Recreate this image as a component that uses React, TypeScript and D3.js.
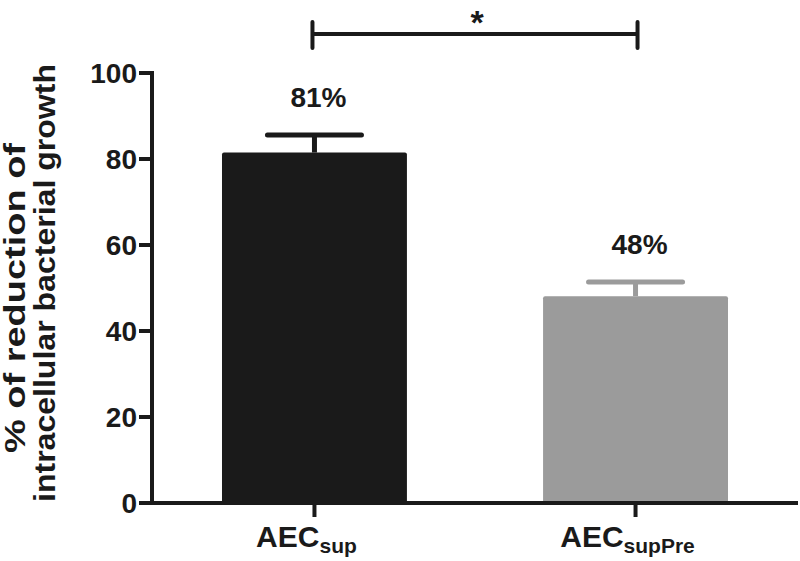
import React from "react";
import * as d3 from "d3";

const categories = ["sup", "supPre"];
const values = [81.5, 48.1];
const errors = [4.1, 3.3];
const percentLabels = ["81%", "48%"];
const yTicks = [0, 20, 40, 60, 80, 100];
const barColors = ["#1a1a1a", "#9b9b9b"];
const yLabelLines = ["% of reduction of", "intracellular bacterial growth"];
const sigLabel = "*";

const W = 800;
const H = 561;
const FONT = "Liberation Sans, Arial, Helvetica, sans-serif";
const INK = "#1a1a1a";

export default function App() {
  const x = d3.scaleBand<string>().domain(categories).range([152, 798]).paddingInner(0.424).paddingOuter(0.218);
  const y = d3.scaleLinear().domain([0, 100]).range([503, 73]);
  const x0 = 152;
  const y0 = y(0);
  const cx = (c: string) => (x(c) as number) + x.bandwidth() / 2;
  const capHalf = 47;
  const bracketY = 34;
  const labelCenters = [-298, -283];
  const labelBaselines = [25, 55];
  const labelLengths = [310, 438];

  return (
    <svg width={W} height={H} style={{ position: "absolute", left: 0, top: 0, background: "#fff" }} fontFamily={FONT}>
      {/* bars */}
      {categories.map((c, i) => (
        <g key={c}>
          <line x1={cx(c)} x2={cx(c)} y1={y(values[i])} y2={y(values[i] + errors[i])} stroke={barColors[i]} strokeWidth={5} />
          <line x1={cx(c) - capHalf} x2={cx(c) + capHalf} y1={y(values[i] + errors[i])} y2={y(values[i] + errors[i])} stroke={barColors[i]} strokeWidth={5} strokeLinecap="round" />
          <rect x={x(c)} y={y(values[i])} width={x.bandwidth()} height={y0 - y(values[i])} fill={barColors[i]} rx={2} />
          <text x={cx(c) + 4} y={y(values[i] + errors[i]) - 28} textAnchor="middle" fontSize={28} fontWeight="bold" fill={INK}>
            {percentLabels[i]}
          </text>
        </g>
      ))}
      {/* y axis */}
      <line x1={x0} x2={x0} y1={y(100) - 2} y2={y0 + 2} stroke={INK} strokeWidth={4} />
      {yTicks.map((t) => (
        <g key={t}>
          <line x1={x0 - 13} x2={x0} y1={y(t)} y2={y(t)} stroke={INK} strokeWidth={4} />
          <text x={x0 - 15} y={y(t)} dy="0.36em" textAnchor="end" fontSize={28} fontWeight="bold" fill={INK}>
            {t}
          </text>
        </g>
      ))}
      {/* x axis */}
      <line x1={x0 - 2} x2={798} y1={y0} y2={y0} stroke={INK} strokeWidth={4} />
      {categories.map((c) => (
        <g key={c}>
          <line x1={cx(c)} x2={cx(c)} y1={y0} y2={y0 + 14} stroke={INK} strokeWidth={4} />
          <text x={cx(c) - 8} y={547} textAnchor="middle" fontSize={30} fontWeight="bold" fill={INK}>
            AEC
            <tspan fontSize={21} dy={6}>{c}</tspan>
          </text>
        </g>
      ))}
      {/* y label */}
      <g transform="rotate(-90)">
        {yLabelLines.map((l, i) => (
          <text
            key={i}
            x={labelCenters[i]}
            y={labelBaselines[i]}
            textAnchor="middle"
            fontSize={29}
            fontWeight="bold"
            fill={INK}
            textLength={labelLengths[i]}
            lengthAdjust="spacingAndGlyphs"
          >
            {l}
          </text>
        ))}
      </g>
      {/* significance bracket */}
      <g stroke={INK} strokeWidth={4}>
        <line x1={cx(categories[0]) - 2} x2={cx(categories[1]) + 2} y1={bracketY} y2={bracketY} />
        <line x1={cx(categories[0]) - 2} x2={cx(categories[0]) - 2} y1={bracketY - 12} y2={bracketY + 14} strokeLinecap="round" />
        <line x1={cx(categories[1]) + 2} x2={cx(categories[1]) + 2} y1={bracketY - 12} y2={bracketY + 14} strokeLinecap="round" />
      </g>
      <text x={(cx(categories[0]) + cx(categories[1])) / 2 + 2} y={34} textAnchor="middle" fontSize={34} fontWeight="bold" fill={INK}>
        {sigLabel}
      </text>
    </svg>
  );
}
